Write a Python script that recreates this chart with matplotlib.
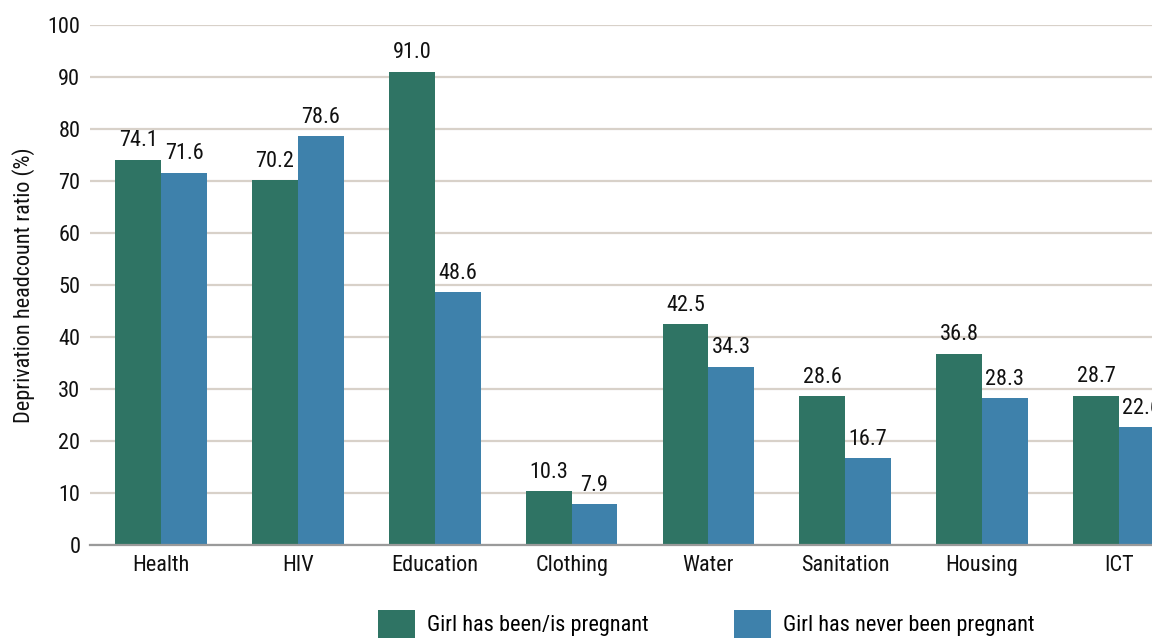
import matplotlib
matplotlib.use("Agg")
import matplotlib.pyplot as plt
import numpy as np
from matplotlib.patches import Patch

plt.rcParams['font.family'] = ['Roboto Condensed', 'Archivo Narrow', 'DejaVu Sans']
FS = 16

categories = ["Health", "HIV", "Education", "Clothing", "Water", "Sanitation", "Housing", "ICT"]
pregnant = [74.1, 70.2, 91.0, 10.3, 42.5, 28.6, 36.8, 28.7]
never_pregnant = [71.6, 78.6, 48.6, 7.9, 34.3, 16.7, 28.3, 22.6]
series_names = ["Girl has been/is pregnant", "Girl has never been pregnant"]
yticks = [0, 10, 20, 30, 40, 50, 60, 70, 80, 90, 100]

green = "#2f7464"
blue = "#3e81ab"

W, H = 1152, 642
fig = plt.figure(figsize=(W / 100, H / 100), dpi=100)
ax = fig.add_axes([90 / W, 1 - 545 / H, (1190 - 90) / W, (545 - 25) / H])

x = np.arange(len(categories))
bw = 0.335
b1 = ax.bar(x - bw / 2, pregnant, bw, color=green, zorder=3)
b2 = ax.bar(x + bw / 2, never_pregnant, bw, color=blue, zorder=3)

for bars, vals in ((b1, pregnant), (b2, never_pregnant)):
    for r, v in zip(bars, vals):
        ax.annotate(f"{v:.1f}", (r.get_x() + r.get_width() / 2, v),
                    xytext=(0, 6), textcoords="offset points",
                    ha="center", va="bottom", fontsize=FS, color="#111111")

ax.set_xlim(-0.52, len(categories) - 0.48)
ax.set_ylim(0, 100)
ax.set_yticks(yticks)
ax.set_xticks(x)
ax.set_xticklabels(categories)
ax.tick_params(axis="both", length=0, labelsize=FS, colors="#111111")
ax.tick_params(axis="x", pad=7)
ax.tick_params(axis="y", pad=7)
ax.grid(axis="y", color="#d8d1c9", linewidth=1.6, zorder=0)
for s in ("top", "right", "left"):
    ax.spines[s].set_visible(False)
ax.spines["bottom"].set_color("#9a9a9a")
ax.spines["bottom"].set_linewidth(1.6)
ax.spines["bottom"].set_zorder(4)
ax.set_ylabel("Deprivation headcount ratio (%)", fontsize=FS, color="#111111", labelpad=9)

em = FS * 100 / 72
handles = [Patch(facecolor=green), Patch(facecolor=blue)]
fig.legend(handles, series_names, loc="center", bbox_to_anchor=(706 / W, 1 - 624 / H),
           ncol=2, frameon=False, fontsize=FS, handlelength=37 / em, handleheight=36 / em,
           handletextpad=12 / em, columnspacing=85 / em, borderpad=0, borderaxespad=0)

fig.savefig("out.png", dpi=100)
